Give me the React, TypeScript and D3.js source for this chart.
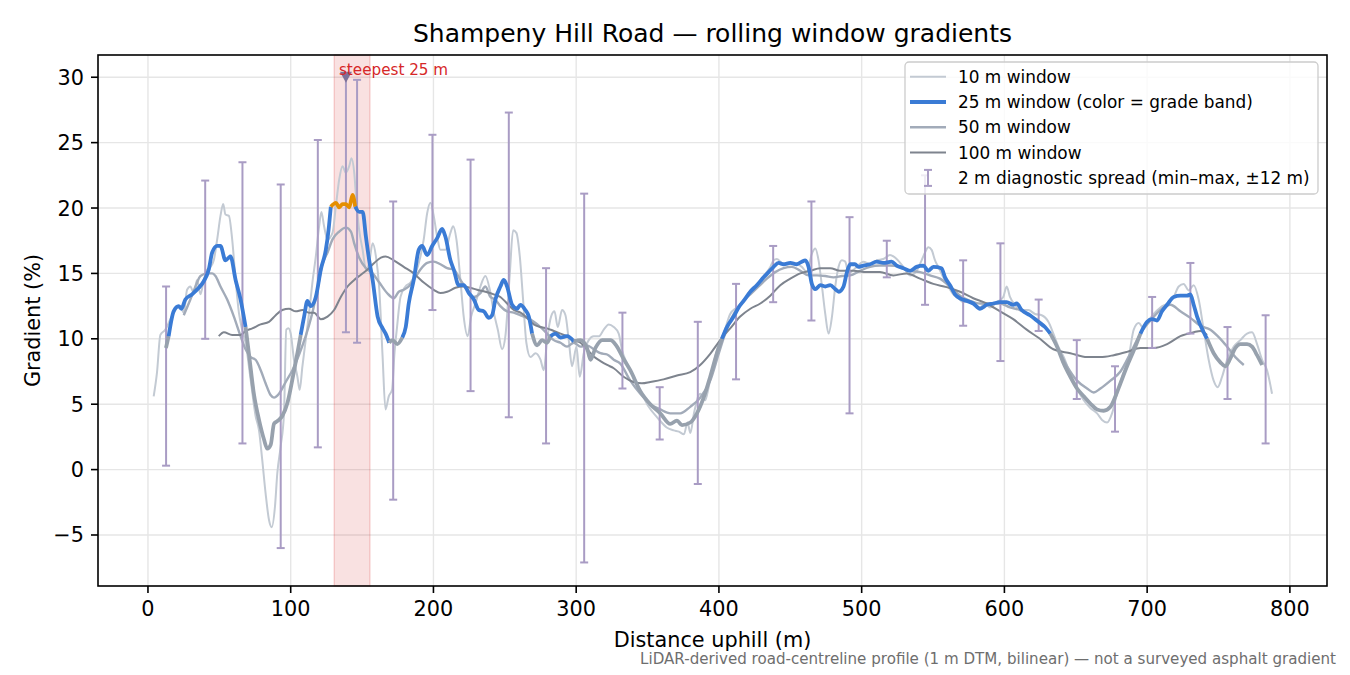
import React from 'react';
import * as d3 from 'd3';

type Pt = [number, number];

// rolling-window gradients, [distance (m), gradient (%)]
const win10: Pt[] = [
	[4.0, 5.6], [6.3, 7.4], [8.7, 10.3], [12.2, 10.7], [15.7, 11.5], [19.2, 12.2], [22.7, 12.5],
	[25.1, 12.0], [27.4, 13.75], [29.7, 14.0], [32.1, 13.5], [34.4, 14.5], [36.8, 13.4], [39.1, 14.5],
	[41.5, 15.3], [43.8, 15.5], [46.1, 16.0], [48.5, 17.6], [50.8, 19.4], [52.7, 20.3], [54.3, 19.5],
	[56.7, 19.4], [59, 17.6], [61.4, 14.5], [63.7, 12.0], [66, 10.7], [68.4, 9.7], [71.9, 6.9],
	[75.4, 4.1], [77.8, 3.0], [80.1, 0.7], [82.4, -1.8], [84.8, -3.85], [86.7, -4.4], [89, -2.8],
	[90.6, -0.3], [93, 1.8], [95.3, 4.3], [96.9, 10.7], [98.4, 10.8], [100, 10.4], [102.3, 8.4],
	[104.7, 7.1], [106.3, 6.1], [108.2, 7.9], [110.5, 9.9], [112.9, 12.0], [115.2, 14.3], [117.6, 16.3],
	[119.9, 18.6], [121.5, 19.7], [123.4, 18.6], [125.8, 17.6], [129.3, 18.1], [131.6, 20.1], [134, 22.2],
	[136.3, 23.2], [138.6, 22.7], [141, 23.2], [142.6, 23.8], [144.5, 22.7], [146.1, 20.4], [148, 18.3],
	[150.4, 16.8], [152.7, 15.3], [155, 15.8], [157.4, 17.3], [159.7, 16.3], [162.1, 13.75], [164.4, 8.6],
	[166.4, 4.6], [168.7, 5.6], [171, 6.1], [172.7, 8.9], [174.5, 10.9], [176.9, 13.2], [180.4, 14.0],
	[183.9, 14.3], [187.4, 15.0], [190.9, 16.3], [193.2, 17.6], [195.6, 19.6], [197.9, 20.4], [200.2, 19.4],
	[202.6, 17.8], [204.9, 16.8], [208.4, 16.8], [211.9, 18.1], [213.8, 18.6], [216.1, 17.6], [218.9, 14.5],
	[221.2, 11.7], [224, 10.2], [226.4, 11.7], [229.4, 12.7], [232.9, 14.0], [236.4, 14.8], [239.5, 13.75],
	[242.3, 12.0], [245.1, 10.7], [248.1, 9.2], [250.4, 10.2], [253.5, 15.0], [255.8, 18.3], [258.1, 18.1],
	[260.5, 16.3], [262.8, 13.0], [265.1, 9.7], [268, 8.6], [271.5, 8.9], [275, 8.4], [277.3, 7.6],
	[279.6, 9.9], [282.4, 11.7], [284.8, 12.1], [287.1, 10.9], [290.1, 12.2], [292.5, 11.8], [294.8, 9.9],
	[297.1, 7.9], [300.2, 9.4], [302.5, 7.1], [305.3, 8.9], [308.8, 9.9], [312.3, 10.2], [316, 10.2],
	[319.3, 10.7], [322.8, 11.1], [326.3, 10.9], [329.8, 10.4], [332.2, 9.1], [335.7, 8.1], [340.3, 7.1],
	[345, 6.05], [350.8, 4.8], [356.7, 4.0], [363.7, 3.2], [368.4, 3.0], [372, 2.9], [375.5, 2.7],
	[378, 3.6], [380, 2.8], [382.5, 4.3], [386.9, 5.8], [390.4, 5.3], [392.8, 6.3], [396.3, 8.1],
	[399.8, 9.6], [403.3, 10.4], [407.9, 11.9], [412.6, 12.4], [417.3, 12.9], [422, 13.7], [426.6, 14.2],
	[431.3, 14.8], [436, 15.5], [438.3, 16.0], [440.6, 16.1], [445.3, 15.7], [450, 15.7], [454.6, 15.7],
	[458.1, 15.5], [461.6, 15.1], [465.1, 16.5], [467.5, 16.9], [469.8, 16.0], [472.2, 14.0], [474.5, 11.9],
	[476.8, 10.4], [479.2, 11.7], [481.5, 14.0], [483.8, 15.5], [486.2, 16.0], [488.5, 15.9], [490.8, 15.0],
	[493.5, 15.2], [496.5, 15.5], [501.2, 15.9], [505.8, 15.7], [510.5, 16.0], [515.2, 16.1], [519.8, 16.4],
	[524.5, 16.1], [529.2, 15.5], [533.9, 14.85], [538.5, 15.2], [542, 16.0], [544.4, 16.6], [546.7, 17.0],
	[549, 16.8], [551.4, 16.0], [553.7, 15.5], [557.2, 14.7], [560.7, 14.0], [564.2, 13.4], [567.7, 13.1],
	[571.2, 12.8], [574.7, 12.9], [578.2, 12.7], [582.9, 12.4], [586.4, 12.7], [589.9, 12.4], [594.6, 12.8],
	[599.2, 13.2], [601.6, 14.0], [603.9, 13.2], [607.4, 12.6], [612.1, 12.2], [616.8, 12.2], [621.4, 11.9],
	[626.1, 11.8], [630.8, 11.3], [634.3, 10.4], [637.8, 9.4], [641.6, 8.6], [646.2, 7.3], [650.9, 6.2],
	[655.6, 5.3], [660.2, 4.7], [664.9, 4.3], [668.4, 3.8], [671.9, 3.6], [675.4, 4.3], [678.9, 5.8],
	[682.4, 7.1], [687.1, 8.6], [690.6, 10.7], [694.1, 11.2], [697.6, 10.8], [701.1, 11.4], [704.6, 11.9],
	[709.3, 12.4], [714, 12.7], [718.6, 13.2], [722.1, 14.0], [725.6, 14.2], [729.1, 13.7], [732.6, 14.1],
	[736.1, 13.0], [739.6, 10.7], [743.1, 8.4], [746.6, 6.8], [749.4, 6.3], [752.5, 7.1], [756, 8.4],
	[760.7, 9.4], [765.3, 9.9], [770, 10.4], [773.5, 10.5], [777, 9.6], [780.5, 8.4], [784, 7.6], [787.5, 5.8],
];

const win25: Pt[] = [
	[12.6, 9.3], [14.5, 10.2], [18, 12.1], [21.5, 12.5], [23.4, 12.3], [26.2, 13.0], [30.9, 13.4],
	[35.6, 13.9], [39.1, 14.4], [42.6, 15.3], [45, 16.6], [48.5, 17.1], [50.8, 17.1], [54.3, 16.0],
	[57.8, 16.3], [61.4, 14.5], [64.9, 13.0], [68.4, 10.9], [70.7, 8.9], [74.2, 5.8], [77.8, 3.8],
	[81.3, 2.3], [83.6, 1.6], [86, 1.9], [88.3, 3.5], [90.6, 3.7], [94.1, 4.1], [97.7, 5.1],
	[101.2, 6.9], [104.7, 8.9], [107, 10.3], [109.4, 11.7], [111.7, 12.9], [114, 12.5], [117.6, 13.2],
	[121.1, 15.3], [124.6, 16.8], [126.5, 18.3], [128.1, 20.1], [131.7, 20.4], [134, 20.05], [136.3, 20.3],
	[138.6, 20.3], [141, 20.05], [143.3, 21.0], [145.2, 20.1], [148, 19.7], [150.4, 19.7], [152.7, 17.8],
	[155, 16.0], [157.4, 14.5], [160.9, 11.7], [164.4, 10.8], [166.5, 10.4], [169, 9.7], [171.2, 9.9],
	[174.7, 9.6], [178.2, 10.1], [180.6, 10.9], [182.7, 12.7], [186.2, 14.5], [189.7, 16.8], [192.1, 17.1],
	[195.6, 16.4], [199.1, 17.1], [202.6, 17.7], [206.1, 18.4], [208.4, 17.8], [211.9, 16.0], [214.2, 15.3],
	[217.7, 14.1], [221.2, 14.1], [224.8, 13.5], [228.3, 13.0], [231.8, 12.2], [235.3, 12.1], [238.8, 11.6],
	[241.1, 11.8], [243.4, 13.0], [246.9, 14.0], [249.3, 14.5], [251.6, 14.0], [255.1, 12.6], [258.6, 12.3],
	[260.9, 12.6], [264.4, 12.2], [266.8, 11.7], [269.1, 10.4], [272.6, 9.5], [276.1, 9.9], [279.6, 9.7],
	[282, 10.2], [285.5, 10.4], [289, 10.1], [293.6, 10.2], [298.3, 9.8], [303, 9.9], [307.6, 9.3],
	[310, 8.4], [313.5, 9.3], [318.2, 9.9], [324, 9.9], [328, 9.5], [333, 8.5], [337.9, 7.6],
	[344.9, 6.0], [351.9, 5.0], [358.9, 4.3], [365.9, 3.5], [370.6, 3.75], [374.1, 3.4], [379.9, 3.6],
	[384.6, 4.3], [389.3, 5.5], [393.9, 7.1], [398.6, 8.9], [402.1, 10.0], [405.6, 10.9], [410.3, 11.7],
	[413.8, 12.4], [417.3, 12.9], [422, 13.6], [426.6, 14.1], [431.3, 14.7], [434.8, 15.1], [438.3, 15.5],
	[441.8, 15.8], [445.3, 15.7], [450, 15.8], [454.6, 15.7], [458.1, 15.9], [460.5, 16.0], [462.8, 15.5],
	[465.1, 14.2], [467.5, 13.8], [471, 14.1], [474.5, 14.0], [478, 14.1], [481.5, 13.8], [484, 13.6],
	[487.3, 14.0], [489.7, 15.1], [492, 15.7], [495.3, 15.7], [497.7, 15.5], [501.2, 15.6], [505.8, 15.7],
	[510.5, 15.9], [515.2, 15.8], [521, 15.9], [524.5, 15.6], [529.2, 15.4], [533.9, 15.2], [538.5, 15.5],
	[543.2, 15.6], [546.7, 15.2], [550.2, 15.5], [555.9, 15.4], [558.4, 14.7], [561.9, 14.1], [565.4, 13.4],
	[568.9, 13.1], [573.6, 12.9], [578.2, 12.7], [582.9, 12.3], [587.6, 12.6], [592.2, 12.7], [596.9, 12.8],
	[601.6, 12.8], [606.2, 12.6], [608.6, 12.7], [612.1, 12.2], [617.9, 11.8], [623.8, 11.3], [628.4, 10.9],
	[632.2, 10.4], [636.9, 9.4], [641.6, 8.1], [646.2, 7.1], [650.9, 6.2], [655.6, 5.6], [660.2, 5.05],
	[664.9, 4.6], [669.6, 4.5], [674.3, 4.8], [677.8, 5.6], [681.3, 6.6], [685.9, 7.9], [690.6, 9.1],
	[695.3, 10.4], [700, 11.3], [703.4, 11.5], [706.9, 11.4], [710.4, 12.1], [714, 12.6], [718.6, 13.2],
	[723.3, 13.3], [728, 13.3], [730.3, 13.4], [732.6, 12.6], [735, 11.7], [739.6, 10.5], [742, 10.0],
	[746.6, 8.9], [751.3, 8.2], [754.8, 7.9], [758.3, 8.5], [761.8, 9.3], [765.3, 9.6], [770, 9.6],
	[773.5, 9.4], [777, 8.75], [780.5, 8.0],
];

const win50: Pt[] = [
	[25.1, 11.8], [29.7, 13.0], [33.3, 14.0], [36.8, 14.8], [41.5, 15.0], [45, 15.0], [47.3, 14.8],
	[50.8, 14.0], [55.5, 13.0], [60.2, 11.7], [64.9, 10.2], [68.4, 9.2], [71.9, 8.6], [75.4, 8.4],
	[79, 7.6], [82.4, 6.6], [85.9, 5.7], [88.3, 5.5], [91.8, 5.8], [96.5, 6.7], [101.2, 7.6],
	[105.9, 8.8], [110.5, 10.2], [115.2, 12.0], [118.7, 13.75], [122.2, 15.7], [125.8, 16.6], [129.3, 17.6],
	[134, 18.2], [138.6, 18.5], [142.2, 18.2], [144.5, 17.3], [148, 16.2], [152.7, 15.4], [157.4, 15.0],
	[162.1, 14.3], [167.5, 13.5], [172.2, 13.1], [175.7, 13.6], [179.2, 13.75], [182.7, 14.0], [186.2, 14.5],
	[190.9, 15.3], [195.6, 15.8], [200.2, 15.9], [204.9, 15.7], [209.6, 15.4], [214.2, 15.3], [218.9, 14.5],
	[223.6, 13.75], [228.3, 13.2], [232.9, 13.5], [236.4, 14.0], [239.9, 13.2], [243.4, 13.0], [246.9, 12.5],
	[251.6, 12.1], [256.3, 12.0], [261, 11.8], [265.6, 11.6], [270.3, 11.3], [275, 10.9], [279.6, 10.4],
	[284.3, 9.9], [289, 9.7], [293.6, 9.4], [298.3, 9.7], [303, 9.4], [307.6, 9.5], [312.3, 9.2],
	[317, 8.9], [321.7, 8.8], [326.3, 8.4], [330.9, 8.1], [337.9, 6.8], [344.9, 5.8], [351.9, 5.0],
	[358.9, 4.6], [365.9, 4.3], [372.9, 4.3], [379.9, 4.8], [386.9, 5.5], [393.9, 6.8], [399.8, 8.85],
	[404.4, 10.4], [410.3, 11.9], [416.1, 12.8], [422, 13.4], [427.8, 14.0], [433.6, 14.6], [439.5, 15.1],
	[445.3, 15.4], [451.1, 15.5], [457, 15.2], [462.8, 14.85], [468.7, 14.85], [474.5, 14.8], [480.3, 14.7],
	[486.2, 14.8], [492, 14.85], [498.8, 15.2], [505.8, 15.5], [512.8, 15.6], [519.8, 15.6], [526.8, 15.5],
	[533.9, 15.2], [540.9, 15.1], [547.9, 14.85], [554.9, 14.6], [561.9, 14.0], [568.9, 13.3], [575.9, 12.9],
	[582.9, 12.7], [589.9, 12.7], [596.9, 12.7], [603.9, 12.4], [610.9, 12.2], [617.9, 11.8], [624.9, 11.3],
	[631.9, 10.4], [636.9, 9.4], [643.9, 7.9], [650.9, 6.8], [657.9, 6.2], [662.6, 5.9], [667.3, 6.2],
	[674.3, 6.8], [681.3, 7.5], [688.3, 8.9], [695.3, 10.4], [702.3, 11.4], [709.3, 12.2], [716.3, 12.6],
	[723.3, 12.1], [730.3, 11.6], [737.3, 11.0], [744.3, 10.7], [751.3, 10.0], [756, 9.4], [761.8, 8.6],
	[767.7, 8.0],
];

const win100: Pt[] = [
	[49.6, 10.2], [53.2, 10.5], [59, 10.3], [64.9, 10.3], [68.4, 10.6], [73.1, 10.8], [78.9, 11.1],
	[84.8, 11.3], [89.5, 11.8], [94.1, 12.2], [98.8, 12.3], [103.5, 12.1], [108.2, 12.2], [112.9, 12.0],
	[116.4, 12.0], [121.1, 11.5], [125.8, 11.7], [130.4, 12.2], [135.1, 13.2], [139.8, 14.0], [144.5, 14.5],
	[149.2, 14.9], [153.9, 15.3], [158.5, 15.8], [163.2, 16.2], [166.5, 16.3], [172.2, 16.0], [179.2, 15.5],
	[186.2, 15.0], [193.2, 14.3], [200.2, 13.75], [204.9, 13.5], [209.6, 13.6], [215.4, 13.9], [221.2, 14.0],
	[225.9, 13.9], [230.6, 13.75], [236.4, 13.6], [242.3, 13.4], [246.9, 13.2], [251.6, 12.7], [256.3, 12.2],
	[261, 12.0], [265.6, 11.6], [270.3, 11.1], [275, 10.9], [279.6, 10.8], [284.3, 10.6], [289, 10.4],
	[293.6, 10.2], [298.3, 9.9], [303, 9.7], [307.6, 9.2], [312.3, 8.65], [317, 8.3], [321.7, 8.0],
	[326.3, 7.75], [333.2, 7.1], [340.2, 6.7], [346.1, 6.6], [351.9, 6.7], [361.2, 6.9], [370.6, 7.2],
	[379.9, 7.45], [386.9, 8.0], [393.9, 8.85], [400.9, 9.9], [407.9, 10.8], [414.9, 11.7], [422, 12.3],
	[429, 12.7], [436, 13.3], [443, 14.1], [450, 14.6], [457, 15.0], [464, 15.2], [471, 15.4],
	[478, 15.4], [485, 15.2], [494.2, 15.2], [503.5, 15.1], [512.8, 15.1], [522.2, 14.85], [531.5, 15.0],
	[540.9, 14.6], [550.2, 14.2], [559.5, 13.95], [568.9, 13.6], [578.2, 13.1], [587.6, 12.7], [596.9, 12.1],
	[606.2, 11.5], [615.6, 10.7], [624.9, 10.0], [634.3, 9.2], [646.2, 8.9], [657.9, 8.6], [667.3, 8.6],
	[676.6, 8.75], [685.9, 9.0], [695.3, 9.3], [704.6, 9.3], [714, 9.6], [723.3, 10.2], [732.6, 10.5],
	[737.3, 10.6], [742, 10.3],
];

// 2 m diagnostic spread: min/max over ±12 m around each station
const spreadX = [
	12.7, 40.1, 66.2, 93, 119, 146.5, 171.8, 199.3, 226, 252.8, 278.9, 305.6, 332.4, 358.5, 385.2,
	412, 438, 464.8, 491.5, 517.6, 544.4, 571.1, 597.2, 624, 650.7, 677.5, 703.5, 730.3, 756.3, 783,
];
const spreadMin = [
	0.3, 10.0, 2.0, -6.0, 1.7, 9.7, -2.3, 12.2, 6.0, 4.0, 2.0, -7.1, 6.2, 2.3, -1.1,
	6.9, 12.8, 11.4, 4.3, 14.7, 12.6, 11.0, 8.3, 10.6, 5.4, 2.9, 9.3, 10.4, 5.4, 2.0,
];
const spreadMax = [
	14.0, 22.1, 23.5, 21.8, 25.2, 29.8, 20.5, 25.6, 23.7, 27.3, 15.4, 21.1, 12.0, 6.3, 11.3,
	14.2, 17.1, 20.5, 19.3, 17.5, 22.5, 16.0, 17.3, 13.0, 9.9, 7.9, 13.2, 15.8, 10.9, 11.8,
];

// steepest 25 m stretch
const steepestStart = 130.5;
const steepestEnd = 155.5;
const steepestX = 138.7;
const steepestMin = 10.5;
const steepestMax = 30.0;

const gradeBreaks = [10, 20];
const gradeColors = ['#97a1ad', '#3a7bd5', '#e58e00'];

const xTicks = [0, 100, 200, 300, 400, 500, 600, 700, 800];
const yTicks = [-5, 0, 5, 10, 15, 20, 25, 30];

const legendLabels = [
	'10 m window',
	'25 m window (color = grade band)',
	'50 m window',
	'100 m window',
	'2 m diagnostic spread (min\u2013max, \u00b112 m)',
];

const C10 = '#c3cad3';
const C50 = '#a2abb9';
const C100 = '#7e848e';
const CSPREAD = '#a99cc4';

const W = 1350;
const H = 675;
const plot = { left: 98, top: 55, right: 1327, bottom: 586 };

const fmt = (v: number) => (v < 0 ? `\u2212${-v}` : `${v}`);

export default function App() {
	const x = d3.scaleLinear().domain([-35, 826]).range([plot.left, plot.right]);
	const y = d3.scaleLinear().domain([-8.9, 31.7]).range([plot.bottom, plot.top]);
	const line = d3
		.line<Pt>()
		.x((d) => x(d[0]))
		.y((d) => y(d[1]))
		.curve(d3.curveMonotoneX);
	const grade = d3.scaleThreshold<number, string>().domain(gradeBreaks).range(gradeColors);

	// split the 25 m series into runs that share a grade band
	const runs: { color: string; pts: Pt[] }[] = [];
	for (let i = 1; i < win25.length; i++) {
		const c = grade((win25[i - 1][1] + win25[i][1]) / 2);
		const last = runs[runs.length - 1];
		if (last && last.color === c) last.pts.push(win25[i]);
		else runs.push({ color: c, pts: [win25[i - 1], win25[i]] });
	}

	const cap = 4;
	const legX = 905;
	const legY = 62;
	const rowY = (i: number) => legY + 14.7 + i * 25.3;

	return (
		<svg
			width={W}
			height={H}
			style={{ position: 'absolute', left: 0, top: 0, background: '#fff' }}
			fontFamily="'DejaVu Sans', sans-serif">
			<rect width={W} height={H} fill="#fff" />

			{/* grid */}
			<g stroke="#e6e6e6" strokeWidth={1.4}>
				{xTicks.map((t) => (
					<line key={'gx' + t} x1={x(t)} x2={x(t)} y1={plot.top} y2={plot.bottom} />
				))}
				{yTicks.map((t) => (
					<line key={'gy' + t} x1={plot.left} x2={plot.right} y1={y(t)} y2={y(t)} />
				))}
			</g>

			{/* steepest 25 m band */}
			<rect
				x={x(steepestStart)}
				y={plot.top}
				width={x(steepestEnd) - x(steepestStart)}
				height={plot.bottom - plot.top}
				fill="#d62728"
				fillOpacity={0.14}
				stroke="#d62728"
				strokeOpacity={0.2}
				strokeWidth={1.4}
			/>

			{/* thin windows */}
			<path d={line(win10) ?? ''} fill="none" stroke={C10} strokeWidth={2} strokeLinejoin="round" />
			<path d={line(win50) ?? ''} fill="none" stroke={C50} strokeWidth={2.4} strokeLinejoin="round" />
			<path d={line(win100) ?? ''} fill="none" stroke={C100} strokeWidth={2} strokeLinejoin="round" />

			{/* diagnostic spread */}
			<g stroke={CSPREAD} strokeWidth={2}>
				{spreadX.map((sx, i) => (
					<g key={'sp' + i}>
						<line x1={x(sx)} x2={x(sx)} y1={y(spreadMin[i])} y2={y(spreadMax[i])} />
						<line x1={x(sx) - cap} x2={x(sx) + cap} y1={y(spreadMin[i])} y2={y(spreadMin[i])} />
						<line x1={x(sx) - cap} x2={x(sx) + cap} y1={y(spreadMax[i])} y2={y(spreadMax[i])} />
					</g>
				))}
				<line x1={x(steepestX)} x2={x(steepestX)} y1={y(steepestMin)} y2={y(steepestMax)} />
				<line
					x1={x(steepestX) - cap}
					x2={x(steepestX) + cap}
					y1={y(steepestMin)}
					y2={y(steepestMin)}
				/>
			</g>

			{/* 25 m window coloured by grade band */}
			{runs.map((r, i) => (
				<path
					key={'run' + i}
					d={line(r.pts) ?? ''}
					fill="none"
					stroke={r.color}
					strokeWidth={3.8}
					strokeLinejoin="round"
				/>
			))}

			{/* steepest marker */}
			<path
				d={`M${x(steepestX) - 6},${y(steepestMax) - 5.5}L${x(steepestX) + 6},${y(steepestMax) - 5.5}L${x(
					steepestX,
				)},${y(steepestMax) + 5.5}Z`}
				fill="#7d7199"
			/>
			<text x={x(133.8)} y={y(30.2)} fontSize={15.2} fill="#d62728">
				steepest 25 m
			</text>

			{/* axes frame and ticks */}
			<rect
				x={plot.left}
				y={plot.top}
				width={plot.right - plot.left}
				height={plot.bottom - plot.top}
				fill="none"
				stroke="#000"
				strokeWidth={1.6}
			/>
			{xTicks.map((t) => (
				<g key={'xt' + t}>
					<line x1={x(t)} x2={x(t)} y1={plot.bottom} y2={plot.bottom + 7} stroke="#000" strokeWidth={1.6} />
					<text x={x(t)} y={plot.bottom + 30} fontSize={20.8} textAnchor="middle">
						{fmt(t)}
					</text>
				</g>
			))}
			{yTicks.map((t) => (
				<g key={'yt' + t}>
					<line x1={plot.left - 7} x2={plot.left} y1={y(t)} y2={y(t)} stroke="#000" strokeWidth={1.6} />
					<text x={plot.left - 14} y={y(t)} dy="0.36em" fontSize={20.8} textAnchor="end">
						{fmt(t)}
					</text>
				</g>
			))}

			<text x={(plot.left + plot.right) / 2} y={42} fontSize={25} textAnchor="middle">
				Shampeny Hill Road — rolling window gradients
			</text>
			<text x={(plot.left + plot.right) / 2} y={647} fontSize={20.8} textAnchor="middle">
				Distance uphill (m)
			</text>
			<text
				transform={`translate(40,${(plot.top + plot.bottom) / 2}) rotate(-90)`}
				fontSize={20.8}
				textAnchor="middle">
				Gradient (%)
			</text>
			<text x={1336} y={664} fontSize={15.1} textAnchor="end" fill="#6e6e6e">
				LiDAR-derived road-centreline profile (1 m DTM, bilinear) — not a surveyed asphalt gradient
			</text>

			{/* legend */}
			<g>
				<rect
					x={legX}
					y={legY}
					width={413}
					height={132}
					rx={4}
					fill="#fff"
					fillOpacity={0.8}
					stroke="#cccccc"
					strokeWidth={1.3}
				/>
				<line x1={910} x2={946} y1={rowY(0)} y2={rowY(0)} stroke={C10} strokeWidth={2} />
				<line x1={910} x2={946} y1={rowY(1)} y2={rowY(1)} stroke={gradeColors[1]} strokeWidth={3.8} />
				<line x1={910} x2={946} y1={rowY(2)} y2={rowY(2)} stroke={C50} strokeWidth={2.4} />
				<line x1={910} x2={946} y1={rowY(3)} y2={rowY(3)} stroke={C100} strokeWidth={2} />
				<g stroke={CSPREAD} strokeWidth={2}>
					<line x1={928} x2={928} y1={rowY(4) - 8} y2={rowY(4) + 8} />
					<line x1={928 - cap} x2={928 + cap} y1={rowY(4) - 8} y2={rowY(4) - 8} />
					<line x1={928 - cap} x2={928 + cap} y1={rowY(4) + 8} y2={rowY(4) + 8} />
				</g>
				{legendLabels.map((l, i) => (
					<text key={'lg' + i} x={958} y={rowY(i)} dy="0.36em" fontSize={16.9}>
						{l}
					</text>
				))}
			</g>
		</svg>
	);
}
